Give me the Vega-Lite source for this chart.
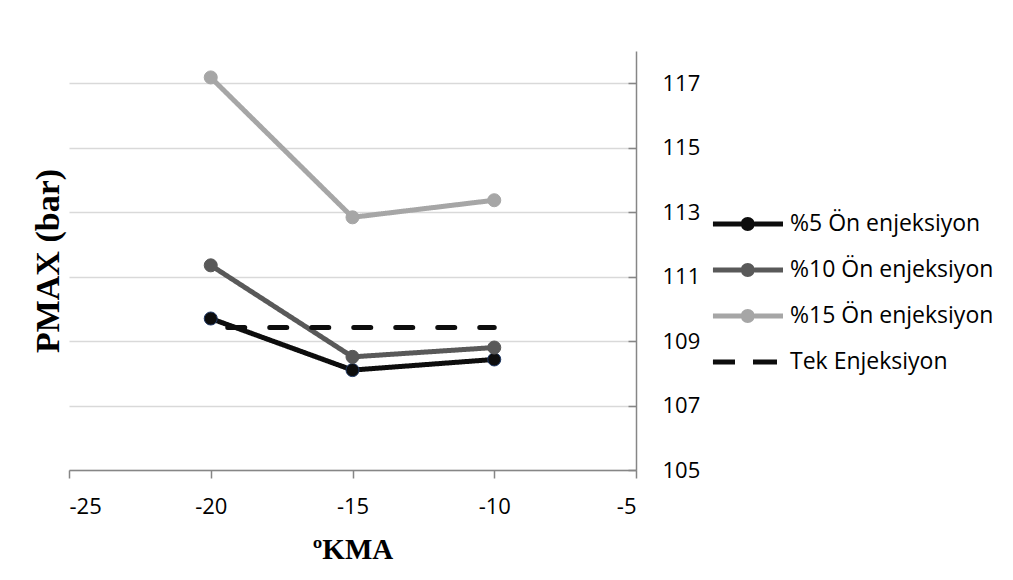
{
  "$schema": "https://vega.github.io/schema/vega-lite/v6.json",
  "width": 567,
  "height": 419,
  "autosize": {"type": "none"},
  "padding": {"left": 69, "top": 51, "right": 377, "bottom": 110},
  "background": "white",
  "config": {
    "view": {"stroke": null},
    "axis": {"labelFont": "Open Sans", "labelFontSize": 22, "labelColor": "#000000", "domainColor": "#868686", "domainWidth": 1.5, "tickColor": "#868686", "tickWidth": 1.5}
  },
  "data": {
    "values": [
      {"kma": -20, "pmax": 109.70, "series": "%5 Ön enjeksiyon"},
      {"kma": -15, "pmax": 108.10, "series": "%5 Ön enjeksiyon"},
      {"kma": -10, "pmax": 108.43, "series": "%5 Ön enjeksiyon"},
      {"kma": -20, "pmax": 111.35, "series": "%10 Ön enjeksiyon"},
      {"kma": -15, "pmax": 108.51, "series": "%10 Ön enjeksiyon"},
      {"kma": -10, "pmax": 108.80, "series": "%10 Ön enjeksiyon"},
      {"kma": -20, "pmax": 117.18, "series": "%15 Ön enjeksiyon"},
      {"kma": -15, "pmax": 112.84, "series": "%15 Ön enjeksiyon"},
      {"kma": -10, "pmax": 113.37, "series": "%15 Ön enjeksiyon"},
      {"kma": -20, "pmax": 109.42, "series": "Tek Enjeksiyon"},
      {"kma": -10, "pmax": 109.42, "series": "Tek Enjeksiyon"}
    ]
  },
  "layer": [
    {
      "mark": {"type": "line", "strokeWidth": 5, "strokeCap": "round", "strokeDashOffset": 25},
      "encoding": {
        "x": {
          "field": "kma", "type": "quantitative",
          "scale": {"domain": [-25, -5], "nice": false},
          "axis": {"values": [-25, -20, -15, -10, -5], "labelExpr": "datum.value + ''", "grid": false, "tickSize": 8, "labelPadding": 18,
                   "title": "ºKMA", "titleFont": "Liberation Serif", "titleFontSize": 29, "titleFontWeight": "bold", "titleColor": "#000000",
                   "titleBaseline": "alphabetic", "titleY": 88, "titleX": 283.5, "titleAlign": "center"}
        },
        "y": {
          "field": "pmax", "type": "quantitative",
          "scale": {"domain": [105, 118], "nice": false, "zero": false},
          "axis": {"orient": "right", "values": [105, 107, 109, 111, 113, 115, 117], "title": null,
                   "grid": true, "gridColor": "#d9d9d9", "gridWidth": 1.5, "tickSize": -8, "labelPadding": 34}
        },
        "color": {
          "field": "series", "type": "nominal",
          "scale": {"domain": ["%5 Ön enjeksiyon", "%10 Ön enjeksiyon", "%15 Ön enjeksiyon", "Tek Enjeksiyon"],
                    "range": ["#0d0d0d", "#595959", "#a6a6a6", "#0d0d0d"]},
          "legend": {
            "title": null, "orient": "none", "legendX": 684, "legendY": 158, "padding": 0,
            "symbolSize": 900, "symbolStrokeWidth": 0,
            "symbolType": "M-3.67,-0.167L-1.8,-0.167L-1.8,0.167L-3.67,0.167Z M-0.9,-0.167L1,-0.167L1,0.167L-0.9,0.167Z M-1.817,0A0.467,0.467 0 1 1 -0.883,0A0.467,0.467 0 1 1 -1.817,0Z",
            "labelFont": "Open Sans", "labelFontSize": 23, "labelColor": "#000000", "labelOffset": 7, "rowPadding": 19, "labelLimit": 400,
            "encode": {
              "symbols": {
                "update": {
                  "shape": {"signal": "datum.value === 'Tek Enjeksiyon' ? 'M-3.67,-0.167L-2.2,-0.167L-2.2,0.167L-3.67,0.167Z M-1,-0.167L0.6,-0.167L0.6,0.167L-1,0.167Z' : 'M-3.67,-0.167L-1.8,-0.167L-1.8,0.167L-3.67,0.167Z M-0.9,-0.167L1,-0.167L1,0.167L-0.9,0.167Z M-1.817,0A0.467,0.467 0 1 1 -0.883,0A0.467,0.467 0 1 1 -1.817,0Z'"},
                  "fill": {"signal": "scale('color', datum.value)"},
                  "strokeWidth": {"value": 0}
                }
              }
            }
          }
        },
        "strokeDash": {
          "field": "series", "type": "nominal",
          "scale": {"domain": ["%5 Ön enjeksiyon", "%10 Ön enjeksiyon", "%15 Ön enjeksiyon", "Tek Enjeksiyon"],
                    "range": [[1, 0], [1, 0], [1, 0], [17, 25]]},
          "legend": null
        }
      }
    },
    {
      "transform": [{"filter": "datum.series !== 'Tek Enjeksiyon'"}],
      "mark": {"type": "circle", "size": 170, "opacity": 1, "strokeWidth": 1},
      "encoding": {
        "x": {"field": "kma", "type": "quantitative"},
        "y": {
          "field": "pmax", "type": "quantitative",
          "axis": {"orient": "left", "title": "PMAX (bar)", "titleFont": "Liberation Serif", "titleFontSize": 34, "titleFontWeight": "bold", "titleColor": "#000000",
                   "labels": false, "ticks": false, "domain": false, "grid": false, "titlePadding": 4}
        },
        "color": {"field": "series", "type": "nominal", "legend": null},
        "stroke": {
          "field": "series", "type": "nominal",
          "scale": {"domain": ["%5 Ön enjeksiyon", "%10 Ön enjeksiyon", "%15 Ön enjeksiyon"],
                    "range": ["#1f3864", "#595959", "#a6a6a6"]},
          "legend": null
        }
      }
    }
  ],
  "resolve": {"axis": {"y": "independent"}}
}
